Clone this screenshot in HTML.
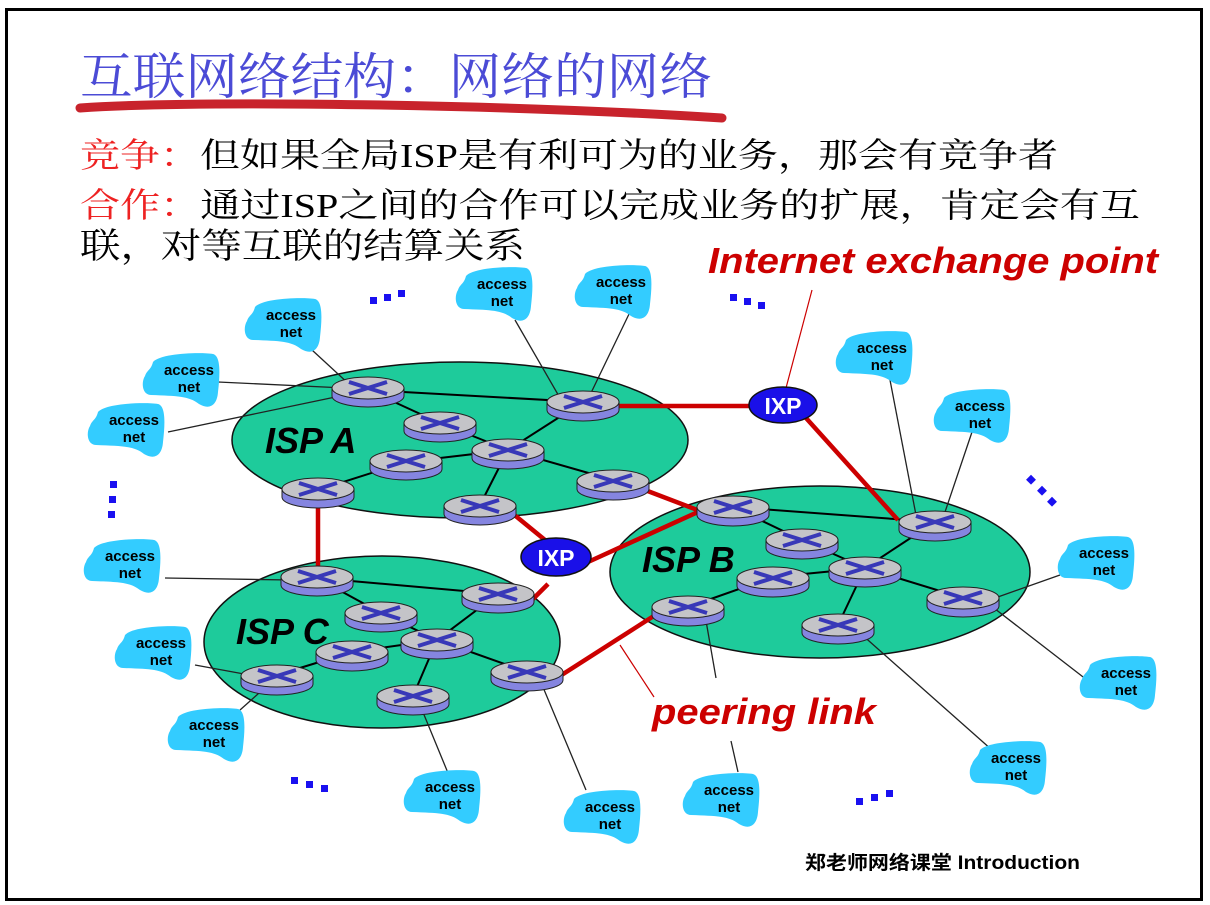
<!DOCTYPE html>
<html><head><meta charset="utf-8"><style>
html,body{margin:0;padding:0;background:#fff;}
svg{display:block;}
.an{font-family:"Liberation Sans",sans-serif;font-weight:bold;font-size:15px;fill:#000;text-anchor:middle;}
</style></head><body>
<svg width="1210" height="905" viewBox="0 0 1210 905" xmlns="http://www.w3.org/2000/svg">
<defs>
<g id="r">
<path d="M-36,0 L-36,8 A36,11 0 0 0 36,8 L36,0 Z" fill="#8585e0" stroke="#222" stroke-width="1"/>
<ellipse cx="0" cy="0" rx="36" ry="11" fill="#c4c4c8" stroke="#222" stroke-width="1"/>
<path d="M-19,-6 L19,6 M-19,6 L19,-6" stroke="#3838b8" stroke-width="4" fill="none"/>
</g>
<g id="c">
<path d="M-28,-18 C-20,-27 20,-28 32,-26 C40,-24 39,-5 37,12 C36,26 28,30 18,24 C8,16 -4,16 -30,15 C-39,15 -40,2 -36,-4 C-34,-10 -30,-10 -28,-18 Z" fill="#33ccff"/>
</g>
</defs>
<rect x="6.5" y="9.5" width="1195" height="890" fill="#fff" stroke="#000" stroke-width="3"/>

<text x="80" y="94" font-family="'Noto Serif CJK SC',serif" font-size="50" fill="#4b4bd6" textLength="632" lengthAdjust="spacingAndGlyphs">互联网络结构：网络的网络</text>
<path d="M80,108 C200,100 500,104 722,118" stroke="#c8232c" stroke-width="9" stroke-linecap="round" fill="none"/>
<text x="80" y="167" font-family="'Liberation Serif','Noto Serif CJK SC',serif" font-size="34" textLength="978" lengthAdjust="spacingAndGlyphs"><tspan fill="#ee2222">竞争：</tspan><tspan fill="#000">但如果全局ISP是有利可为的业务，那会有竞争者</tspan></text>
<text x="80" y="217" font-family="'Liberation Serif','Noto Serif CJK SC',serif" font-size="34" textLength="1060" lengthAdjust="spacingAndGlyphs"><tspan fill="#ee2222">合作：</tspan><tspan fill="#000">通过ISP之间的合作可以完成业务的扩展，肯定会有互</tspan></text>
<text x="80" y="258" font-family="'Liberation Serif','Noto Serif CJK SC',serif" font-size="35" fill="#000" textLength="445" lengthAdjust="spacingAndGlyphs">联，对等互联的结算关系</text>

<ellipse cx="460" cy="440" rx="228" ry="78" fill="#1ecb9b" stroke="#111" stroke-width="1.5"/>
<ellipse cx="382" cy="642" rx="178" ry="86" fill="#1ecb9b" stroke="#111" stroke-width="1.5"/>
<ellipse cx="820" cy="572" rx="210" ry="86" fill="#1ecb9b" stroke="#111" stroke-width="1.5"/>

<g stroke="#222" stroke-width="1.3">
<line x1="312" y1="350" x2="350" y2="385"/>
<line x1="218" y1="382" x2="345" y2="388"/>
<line x1="168" y1="432" x2="345" y2="395"/>
<line x1="515" y1="320" x2="560" y2="398"/>
<line x1="630" y1="312" x2="590" y2="395"/>
<line x1="890" y1="380" x2="916" y2="515"/>
<line x1="972" y1="432" x2="944" y2="515"/>
<line x1="165" y1="578" x2="290" y2="580"/>
<line x1="195" y1="665" x2="255" y2="676"/>
<line x1="240" y1="710" x2="268" y2="685"/>
<line x1="448" y1="773" x2="420" y2="705"/>
<line x1="586" y1="790" x2="540" y2="680"/>
<line x1="705" y1="615" x2="716" y2="678"/>
<line x1="731" y1="741" x2="738" y2="772"/>
<line x1="992" y1="750" x2="860" y2="633"/>
<line x1="1087" y1="680" x2="990" y2="605"/>
<line x1="1060" y1="575" x2="995" y2="598"/>
</g>
<g stroke="#000" stroke-width="2">
<line x1="368" y1="390" x2="583" y2="402"/>
<line x1="368" y1="390" x2="440" y2="423"/>
<line x1="440" y1="423" x2="508" y2="450"/>
<line x1="583" y1="402" x2="508" y2="450"/>
<line x1="406" y1="462" x2="508" y2="450"/>
<line x1="318" y1="490" x2="406" y2="462"/>
<line x1="508" y1="450" x2="613" y2="480"/>
<line x1="508" y1="450" x2="480" y2="505"/>
<line x1="733" y1="507" x2="935" y2="522"/>
<line x1="733" y1="507" x2="802" y2="540"/>
<line x1="802" y1="540" x2="865" y2="568"/>
<line x1="935" y1="522" x2="865" y2="568"/>
<line x1="773" y1="577" x2="865" y2="568"/>
<line x1="688" y1="607" x2="773" y2="577"/>
<line x1="865" y1="568" x2="963" y2="598"/>
<line x1="865" y1="568" x2="838" y2="625"/>
<line x1="317" y1="578" x2="498" y2="594"/>
<line x1="317" y1="578" x2="381" y2="613"/>
<line x1="381" y1="613" x2="437" y2="640"/>
<line x1="498" y1="594" x2="437" y2="640"/>
<line x1="352" y1="652" x2="437" y2="640"/>
<line x1="277" y1="675" x2="352" y2="652"/>
<line x1="437" y1="640" x2="527" y2="672"/>
<line x1="437" y1="640" x2="413" y2="696"/>
</g>
<g stroke="#cc0000" stroke-width="4.5" fill="none">
<line x1="615" y1="406" x2="752" y2="406"/>
<line x1="806" y1="418" x2="898" y2="520"/>
<line x1="318" y1="500" x2="318" y2="570"/>
<line x1="512" y1="513" x2="545" y2="540"/>
<polyline points="645,490 700,511 588,562"/>
<line x1="530" y1="602" x2="548" y2="584"/>
<line x1="660" y1="612" x2="560" y2="676"/>
</g>
<line x1="812" y1="290" x2="786" y2="388" stroke="#cc0000" stroke-width="1.2"/>
<line x1="620" y1="645" x2="654" y2="697" stroke="#cc0000" stroke-width="1.2"/>

<use href="#r" x="368" y="388"/><use href="#r" x="583" y="402"/><use href="#r" x="440" y="423"/>
<use href="#r" x="406" y="461"/><use href="#r" x="508" y="450"/><use href="#r" x="318" y="489"/>
<use href="#r" x="613" y="481"/><use href="#r" x="480" y="506"/>
<use href="#r" x="733" y="507"/><use href="#r" x="935" y="522"/><use href="#r" x="802" y="540"/>
<use href="#r" x="865" y="568"/><use href="#r" x="773" y="578"/><use href="#r" x="688" y="607"/>
<use href="#r" x="963" y="598"/><use href="#r" x="838" y="625"/>
<use href="#r" x="317" y="577"/><use href="#r" x="498" y="594"/><use href="#r" x="381" y="613"/>
<use href="#r" x="437" y="640"/><use href="#r" x="352" y="652"/><use href="#r" x="527" y="672"/>
<use href="#r" x="277" y="676"/><use href="#r" x="413" y="696"/>

<ellipse cx="783" cy="405" rx="34" ry="18" fill="#1a10e8" stroke="#111" stroke-width="1.5"/>
<text x="783" y="414" font-family="'Liberation Sans',sans-serif" font-weight="bold" font-size="23" fill="#fff" text-anchor="middle">IXP</text>
<ellipse cx="556" cy="557" rx="35" ry="19" fill="#1a10e8" stroke="#111" stroke-width="1.5"/>
<text x="556" y="566" font-family="'Liberation Sans',sans-serif" font-weight="bold" font-size="23" fill="#fff" text-anchor="middle">IXP</text>

<g font-family="'Liberation Sans',sans-serif" font-weight="bold" font-style="italic" font-size="36" fill="#000">
<text x="265" y="453">ISP A</text>
<text x="642" y="572">ISP B</text>
<text x="236" y="644">ISP C</text>
</g>
<g font-family="'Liberation Sans',sans-serif" font-weight="bold" font-style="italic" font-size="36" fill="#cc0000">
<text x="708" y="273" textLength="450" lengthAdjust="spacingAndGlyphs">Internet exchange point</text>
<text x="652" y="724" textLength="224" lengthAdjust="spacingAndGlyphs">peering link</text>
</g>

<g>
<use href="#c" x="283" y="325"/><use href="#c" x="181" y="380"/><use href="#c" x="126" y="430"/>
<use href="#c" x="494" y="294"/><use href="#c" x="613" y="292"/><use href="#c" x="874" y="358"/>
<use href="#c" x="972" y="416"/><use href="#c" x="122" y="566"/><use href="#c" x="153" y="653"/>
<use href="#c" x="206" y="735"/><use href="#c" x="442" y="797"/><use href="#c" x="602" y="817"/>
<use href="#c" x="721" y="800"/><use href="#c" x="1008" y="768"/><use href="#c" x="1118" y="683"/>
<use href="#c" x="1096" y="563"/>
</g>
<g class="an">
<text x="291" y="320" class="an">access</text><text x="291" y="337" class="an">net</text>
<text x="189" y="375" class="an">access</text><text x="189" y="392" class="an">net</text>
<text x="134" y="425" class="an">access</text><text x="134" y="442" class="an">net</text>
<text x="502" y="289" class="an">access</text><text x="502" y="306" class="an">net</text>
<text x="621" y="287" class="an">access</text><text x="621" y="304" class="an">net</text>
<text x="882" y="353" class="an">access</text><text x="882" y="370" class="an">net</text>
<text x="980" y="411" class="an">access</text><text x="980" y="428" class="an">net</text>
<text x="130" y="561" class="an">access</text><text x="130" y="578" class="an">net</text>
<text x="161" y="648" class="an">access</text><text x="161" y="665" class="an">net</text>
<text x="214" y="730" class="an">access</text><text x="214" y="747" class="an">net</text>
<text x="450" y="792" class="an">access</text><text x="450" y="809" class="an">net</text>
<text x="610" y="812" class="an">access</text><text x="610" y="829" class="an">net</text>
<text x="729" y="795" class="an">access</text><text x="729" y="812" class="an">net</text>
<text x="1016" y="763" class="an">access</text><text x="1016" y="780" class="an">net</text>
<text x="1126" y="678" class="an">access</text><text x="1126" y="695" class="an">net</text>
<text x="1104" y="558" class="an">access</text><text x="1104" y="575" class="an">net</text>
</g>

<g fill="#1a10f0">
<rect x="370" y="297" width="7" height="7"/><rect x="384" y="294" width="7" height="7"/><rect x="398" y="290" width="7" height="7"/>
<rect x="730" y="294" width="7" height="7"/><rect x="744" y="298" width="7" height="7"/><rect x="758" y="302" width="7" height="7"/>
<rect x="110" y="481" width="7" height="7"/><rect x="109" y="496" width="7" height="7"/><rect x="108" y="511" width="7" height="7"/>
<rect x="1028" y="476" width="7" height="7" transform="rotate(45 1031 479)"/><rect x="1039" y="487" width="7" height="7" transform="rotate(45 1042 490)"/><rect x="1049" y="498" width="7" height="7" transform="rotate(45 1052 501)"/>
<rect x="291" y="777" width="7" height="7"/><rect x="306" y="781" width="7" height="7"/><rect x="321" y="785" width="7" height="7"/>
<rect x="856" y="798" width="7" height="7"/><rect x="871" y="794" width="7" height="7"/><rect x="886" y="790" width="7" height="7"/>
</g>

<text x="805" y="869" font-family="'Liberation Sans','Noto Sans CJK SC',sans-serif" font-weight="bold" font-size="19" fill="#000" textLength="275" lengthAdjust="spacingAndGlyphs">郑老师网络课堂  Introduction</text>
</svg>
</body></html>
